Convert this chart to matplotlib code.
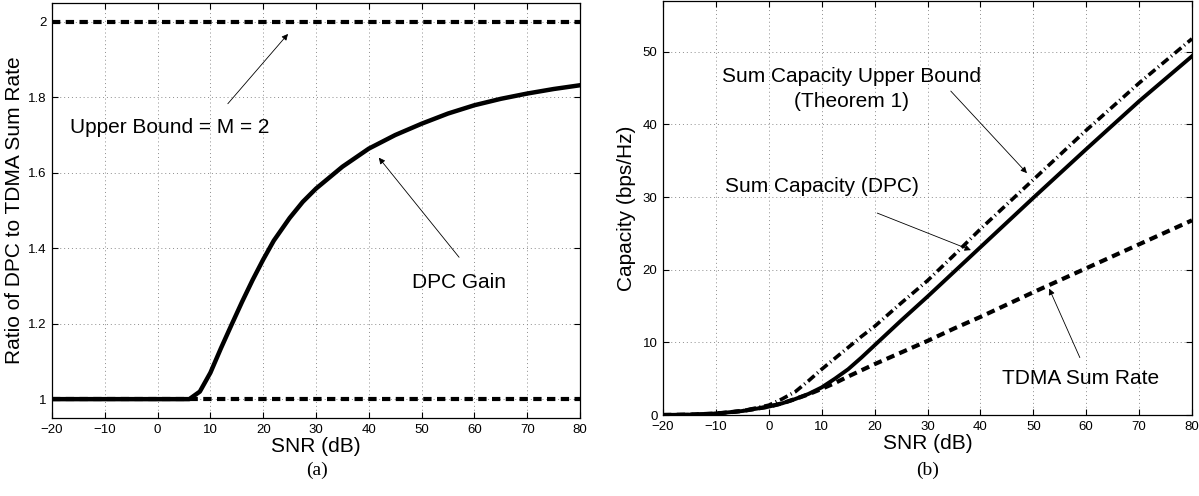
import numpy as np
import matplotlib.pyplot as plt
from matplotlib.ticker import FuncFormatter

plt.rcParams['font.family'] = ['Liberation Sans', 'DejaVu Sans']

# (a) ratio of DPC to TDMA sum rate
snr_gain = [-20, -10, 0, 6, 8, 10, 12, 14, 16, 18, 20, 22, 25, 27.5, 30, 35, 40, 45, 50, 55, 60, 65, 70, 75, 80]
dpc_gain = [1.0, 1.0, 1.0, 1.0, 1.02, 1.07, 1.135, 1.197, 1.258, 1.316, 1.37, 1.42, 1.48, 1.523, 1.558,
            1.616, 1.664, 1.70, 1.73, 1.757, 1.779, 1.796, 1.81, 1.822, 1.832]
bound_x = [-20, 80]
bound_hi = [2, 2]
bound_lo = [1, 1]

# (b) capacities
snr_cap = [-20, -15, -10, -5, 0, 2.5, 5, 7.5, 10, 12.5, 15, 17.5, 20, 25, 30, 35, 40, 50, 60, 70, 80]
dpc_cap = [0.01, 0.05, 0.2, 0.55, 1.15, 1.6, 2.2, 2.9, 3.8, 5.0, 6.3, 7.9, 9.6, 13.0, 16.3, 19.7, 23.1,
           29.9, 36.6, 43.2, 49.4]
ub_cap = [0.01, 0.05, 0.2, 0.57, 1.35, 2.2, 3.2, 4.7, 6.3, 7.8, 9.3, 10.8, 12.2, 15.4, 18.5, 22.0, 25.6,
          32.4, 39.2, 45.7, 51.8]
tdma_cap = [0.01, 0.05, 0.2, 0.55, 1.15, 1.6, 2.2, 2.85, 3.6, 4.4, 5.3, 6.15, 7.0, 8.6, 10.2, 11.9, 13.5,
            16.9, 20.2, 23.5, 26.8]

xticks = list(range(-20, 81, 10))
FS = 15
TICK_FS = 9.5

fig = plt.figure(figsize=(11.99, 4.96), dpi=100)
ax1 = fig.add_axes([52 / 1199, 78 / 496, 528 / 1199, 415 / 496])
ax2 = fig.add_axes([663 / 1199, 81 / 496, 529 / 1199, 414 / 496])


def style(ax):
    ax.grid(True, color='0.55', linestyle=(0, (1, 3)), linewidth=0.7)
    ax.tick_params(direction='in', top=True, right=True, length=4, width=0.8,
                   labelsize=TICK_FS, pad=4)
    for s in ax.spines.values():
        s.set_linewidth(0.9)
    ax.set_xticks(xticks)
    ax.set_xlim(-20, 80)
    ax.set_xlabel('SNR (dB)', fontsize=FS, labelpad=1)
    ax.yaxis.set_major_formatter(FuncFormatter(lambda v, p: f'{v:g}'))


arrow = dict(arrowstyle='-|>', lw=0.6, color='k', mutation_scale=9, shrinkA=0, shrinkB=0)

# left panel
ax1.plot(bound_x, bound_hi, color='k', lw=3, linestyle=(0, (2.0, 1.3)))
ax1.plot(bound_x, bound_lo, color='k', lw=3, linestyle=(0, (2.0, 1.3)))
ax1.plot(snr_gain, dpc_gain, color='k', lw=3.2)
ax1.set_ylim(0.95, 2.05)
ax1.set_yticks([1, 1.2, 1.4, 1.6, 1.8, 2])
style(ax1)
ax1.set_ylabel('Ratio of DPC to TDMA Sum Rate', fontsize=FS, labelpad=3)
ax1.annotate('', xy=(24.7, 1.968), xytext=(13.3, 1.783), arrowprops=arrow)
ax1.text(2.2, 1.72, 'Upper Bound = M = 2', fontsize=FS, ha='center', va='center')
ax1.annotate('', xy=(41.9, 1.64), xytext=(57.1, 1.376), arrowprops=arrow)
ax1.text(57.1, 1.31, 'DPC Gain', fontsize=FS, ha='center', va='center')

# right panel
ax2.plot(snr_cap, tdma_cap, color='k', lw=3, linestyle=(0, (2.0, 1.3)))
ax2.plot(snr_cap, ub_cap, color='k', lw=2.6, linestyle=(0, (2.4, 1.0, 0.3, 1.0)))
ax2.plot(snr_cap, dpc_cap, color='k', lw=2.8)
ax2.set_ylim(0, 57)
ax2.set_yticks([0, 10, 20, 30, 40, 50])
style(ax2)
ax2.set_ylabel('Capacity (bps/Hz)', fontsize=FS, labelpad=5)
ax2.annotate('', xy=(48.8, 33.3), xytext=(34.4, 44.6), arrowprops=arrow)
ax2.text(15.7, 44.9, 'Sum Capacity Upper Bound\n(Theorem 1)', fontsize=FS,
         ha='center', va='center', multialignment='center', linespacing=1.35)
ax2.annotate('', xy=(38.2, 22.7), xytext=(20.5, 27.8), arrowprops=arrow)
ax2.text(10.1, 31.4, 'Sum Capacity (DPC)', fontsize=FS, ha='center', va='center')
ax2.annotate('', xy=(53.0, 17.4), xytext=(58.8, 7.9), arrowprops=arrow)
ax2.text(59.0, 5.0, 'TDMA Sum Rate', fontsize=FS, ha='center', va='center')

fig.text(317 / 1199, 1 - 470 / 496, '(a)', fontsize=14, ha='center', va='center',
         family=['Liberation Serif', 'DejaVu Serif'])
fig.text(928 / 1199, 1 - 470 / 496, '(b)', fontsize=14, ha='center', va='center',
         family=['Liberation Serif', 'DejaVu Serif'])

fig.savefig('out.png', dpi=100)
